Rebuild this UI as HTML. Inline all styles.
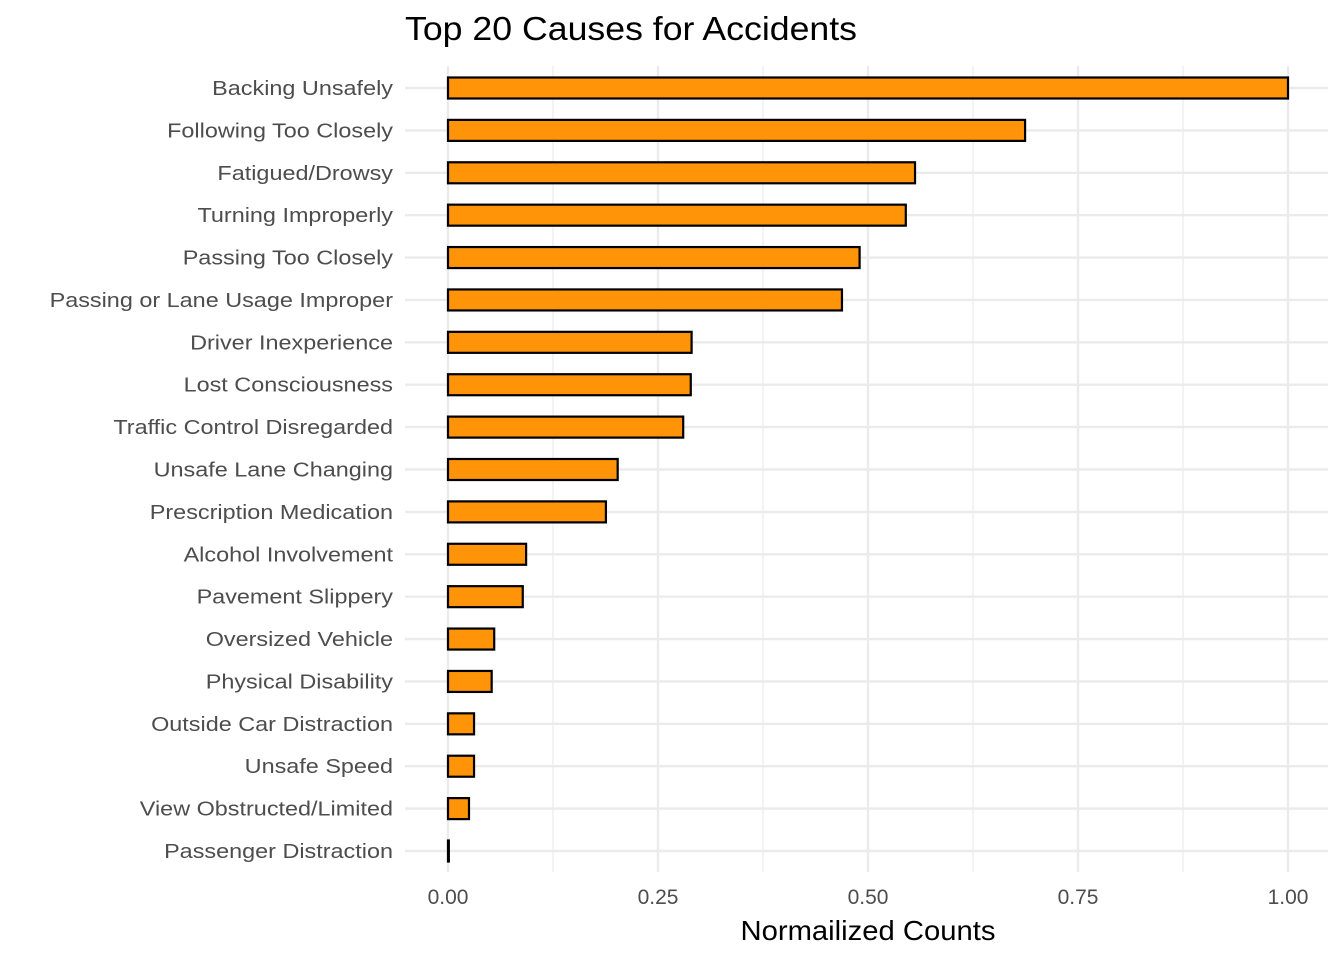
<!DOCTYPE html>
<html><head><meta charset="utf-8"><style>
body{margin:0;background:#fff}
svg{display:block;font-family:"Liberation Sans",Arial,sans-serif}
</style></head><body>
<svg id="chart" width="1344" height="960">
<text x="405" y="40" font-size="33" fill="#000" textLength="452" lengthAdjust="spacingAndGlyphs">Top 20 Causes for Accidents</text>
<g id="grid"></g><g id="bars"></g><g id="ylabels"></g><g id="xlabels"></g>
<text x="868" y="940" font-size="28" text-anchor="middle" fill="#000" textLength="255" lengthAdjust="spacingAndGlyphs">Normailized Counts</text>
</svg>
<script>
const categories=["Backing Unsafely","Following Too Closely","Fatigued/Drowsy","Turning Improperly","Passing Too Closely","Passing or Lane Usage Improper","Driver Inexperience","Lost Consciousness","Traffic Control Disregarded","Unsafe Lane Changing","Prescription Medication","Alcohol Involvement","Pavement Slippery","Oversized Vehicle","Physical Disability","Outside Car Distraction","Unsafe Speed","View Obstructed/Limited","Passenger Distraction"];
const values=[1.0,0.687,0.556,0.545,0.490,0.469,0.290,0.289,0.280,0.202,0.188,0.093,0.089,0.055,0.052,0.031,0.031,0.025,0.001];
const xTicks=[0,0.25,0.5,0.75,1.0];
const xTickLabels=["0.00","0.25","0.50","0.75","1.00"];
const NS="http://www.w3.org/2000/svg";
const x=v=>448+v*840;
const y=i=>88+i*(851-88)/(categories.length-1);
function mk(t,a,p){const e=document.createElementNS(NS,t);for(const k in a)e.setAttribute(k,a[k]);document.getElementById(p).appendChild(e);return e;}
const minor=[0.125,0.375,0.625,0.875];
minor.forEach(v=>{const l=mk('line',{x1:x(v),x2:x(v),y1:66,y2:872,stroke:'#ebebeb','stroke-width':1.2},'grid');

});
xTicks.forEach((v,i)=>{const l=mk('line',{x1:x(v),x2:x(v),y1:66,y2:872,stroke:'#ebebeb','stroke-width':2.4},'grid');


const t=mk('text',{x:x(v),y:904,'font-size':21,fill:'#4d4d4d','text-anchor':'middle'},'xlabels');t.textContent=xTickLabels[i];

});
categories.forEach((c,i)=>{const g=mk('line',{x1:405,x2:1328,y1:y(i),y2:y(i),stroke:'#ebebeb','stroke-width':2.4},'grid');


const r=mk('rect',{x:x(0),y:y(i)-10.5,width:x(values[i])-x(0),height:21,fill:'#ff9408',stroke:'#000','stroke-width':2.2},'bars');


const t=mk('text',{x:393,y:y(i)+7,'font-size':20,fill:'#4d4d4d','text-anchor':'end'},'ylabels');t.textContent=c;


const w=t.getComputedTextLength();t.setAttribute('textLength',w*1.17);t.setAttribute('lengthAdjust','spacingAndGlyphs');});
</script>
</body></html>
